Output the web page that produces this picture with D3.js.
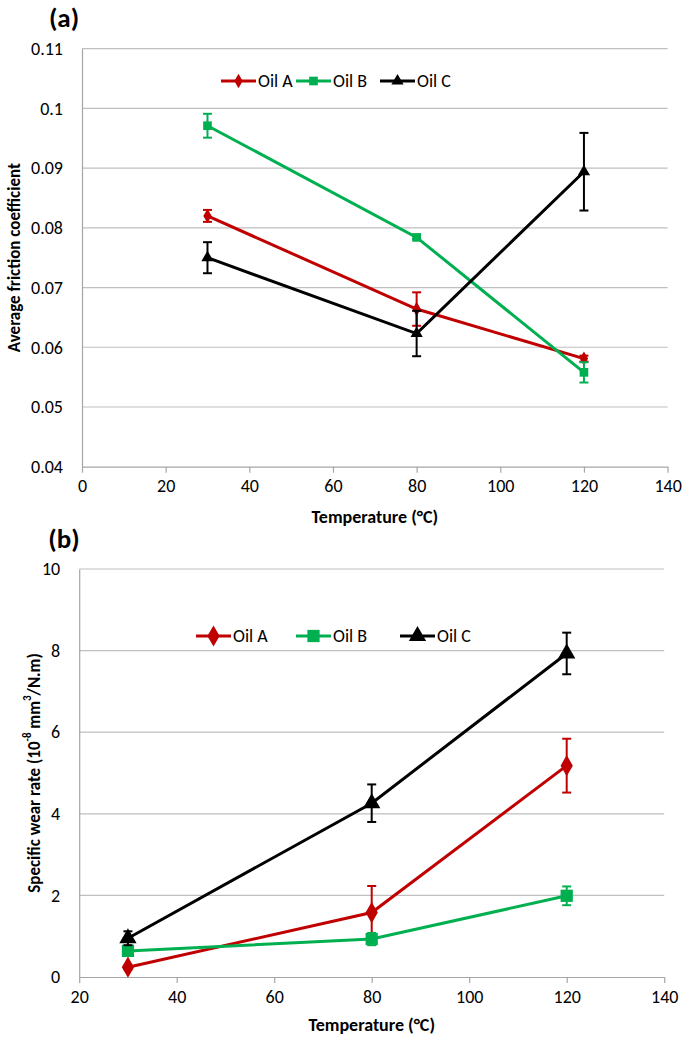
<!DOCTYPE html>
<html>
<head>
<meta charset="utf-8">
<script src="https://cdn.jsdelivr.net/npm/d3@7"></script>
<style>
  body { margin: 0; background: #fff; }
  svg text { font-family: Carlito, Calibri, Lato, sans-serif; fill: #000; }
</style>
</head>
<body>
<div id="chart"></div>
<script>
// Shared legend / series info
const oils = ["Oil A", "Oil B", "Oil C"];
const oilColors = ["#C00000", "#00B050", "#000000"];
const oilShapes = [d3.symbolDiamond, d3.symbolSquare, d3.symbolTriangle];

// Panel (a): average friction coefficient
const tempsA = [30, 80, 120];
const frictionA = [0.0820, 0.0664, 0.0581];
const frictionAErr = [0.0010, 0.0028, 0.0005];
const frictionB = [0.0971, 0.0784, 0.0558];
const frictionBErr = [0.0020, 0.0003, 0.0017];
const frictionC = [0.0750, 0.0623, 0.0894];
const frictionCErr = [0.0026, 0.0038, 0.0065];
const frictionXTicks = [0, 20, 40, 60, 80, 100, 120, 140];
const frictionYTicks = [0.04, 0.05, 0.06, 0.07, 0.08, 0.09, 0.1, 0.11];

// Panel (b): specific wear rate
const tempsB = [30, 80, 120];
const wearA = [0.24, 1.58, 5.18];
const wearAErr = [0.05, 0.65, 0.66];
const wearB = [0.64, 0.93, 1.99];
const wearBErr = [0.08, 0.15, 0.23];
const wearC = [0.95, 4.26, 7.93];
const wearCErr = [0.17, 0.46, 0.51];
const wearXTicks = [20, 40, 60, 80, 100, 120, 140];
const wearYTicks = [0, 2, 4, 6, 8, 10];

const width = 685, height = 1037;

const svg = d3.select("#chart").append("svg")
    .attr("width", width)
    .attr("height", height);

function drawPanel(cfg) {
    const g = svg.append("g");

    const x = d3.scaleLinear().domain(cfg.xDomain).range([cfg.left, cfg.right]);
    const y = d3.scaleLinear().domain(cfg.yDomain).range([cfg.bottom, cfg.top]);

    // gridlines
    g.selectAll(".grid")
        .data(cfg.yTicks.filter(t => t !== cfg.yDomain[0]))
        .join("line")
        .attr("x1", cfg.left).attr("x2", cfg.right)
        .attr("y1", d => y(d)).attr("y2", d => y(d))
        .attr("stroke", "#BFBFBF")
        .attr("stroke-width", 1.2);

    // y axis (no ticks, just line + labels)
    const yAxis = g.append("g")
        .attr("transform", `translate(${cfg.left},0)`)
        .call(d3.axisLeft(y).tickValues(cfg.yTicks).tickSize(0).tickPadding(19)
            .tickFormat(cfg.yFormat));
    yAxis.select(".domain").attr("stroke", "#A6A6A6").attr("stroke-width", 1.2);
    yAxis.selectAll("text").style("font-size", "18px");

    // x axis
    const xAxis = g.append("g")
        .attr("transform", `translate(0,${cfg.bottom})`)
        .call(d3.axisBottom(x).tickValues(cfg.xTicks).tickSizeInner(6).tickSizeOuter(0).tickPadding(7)
            .tickFormat(d3.format("d")));
    xAxis.select(".domain").attr("stroke", "#A6A6A6").attr("stroke-width", 1.2);
    xAxis.selectAll(".tick line").attr("stroke", "#A6A6A6").attr("stroke-width", 1.2);
    xAxis.selectAll("text").style("font-size", "18px");

    // axis titles
    g.append("text")
        .attr("x", (cfg.left + cfg.right) / 2)
        .attr("y", cfg.xTitleY)
        .attr("text-anchor", "middle")
        .style("font-size", "18px")
        .style("font-weight", "bold")
        .text("Temperature (°C)");

    const yt = g.append("text")
        .attr("transform", `translate(${cfg.yTitleX},${(cfg.top + cfg.bottom) / 2}) rotate(-90)`)
        .attr("text-anchor", "middle")
        .attr("dominant-baseline", "central")
        .style("font-size", "17px")
        .style("font-weight", "bold");
    cfg.yTitle.forEach(part => {
        const ts = yt.append("tspan").text(part.t);
        if (part.sup) ts.attr("baseline-shift", "super").style("font-size", "11px");
    });

    // panel label
    g.append("text")
        .attr("x", cfg.labelX)
        .attr("y", cfg.labelY)
        .attr("text-anchor", "middle")
        .attr("dominant-baseline", "central")
        .style("font-size", "27px")
        .style("font-weight", "bold")
        .text(cfg.label);

    // series
    const line = d3.line().x(d => x(d.t)).y(d => y(d.v));
    cfg.series.forEach((s, i) => {
        const pts = s.temps.map((t, j) => ({ t, v: s.values[j], e: s.errs[j] }));
        const sg = g.append("g");

        sg.append("path")
            .datum(pts)
            .attr("d", line)
            .attr("fill", "none")
            .attr("stroke", oilColors[i])
            .attr("stroke-width", 3);

        // error bars
        pts.forEach(p => {
            const cx = x(p.t);
            const y1 = y(p.v + p.e), y2 = y(p.v - p.e);
            sg.append("line").attr("x1", cx).attr("x2", cx).attr("y1", y1).attr("y2", y2)
                .attr("stroke", oilColors[i]).attr("stroke-width", 2);
            [y1, y2].forEach(yy => {
                sg.append("line").attr("x1", cx - 4.5).attr("x2", cx + 4.5).attr("y1", yy).attr("y2", yy)
                    .attr("stroke", oilColors[i]).attr("stroke-width", 2);
            });
        });

        sg.selectAll(".pt")
            .data(pts)
            .join("path")
            .attr("transform", d => `translate(${x(d.t)},${y(d.v)})`)
            .attr("d", d3.symbol().type(oilShapes[i]).size(cfg.markerSize[i]))
            .attr("fill", oilColors[i]);
    });

    // legend
    const lg = g.append("g").attr("transform", `translate(0,${cfg.legendY})`);
    oils.forEach((name, i) => {
        const lx = cfg.legendX[i];
        lg.append("line").attr("x1", lx).attr("x2", lx + 35).attr("y1", 0).attr("y2", 0)
            .attr("stroke", oilColors[i]).attr("stroke-width", 3);
        lg.append("path")
            .attr("transform", `translate(${lx + 17.5},0)`)
            .attr("d", d3.symbol().type(oilShapes[i]).size(cfg.markerSize[i]))
            .attr("fill", oilColors[i]);
        lg.append("text")
            .attr("x", lx + 37)
            .attr("y", 0)
            .attr("dominant-baseline", "central")
            .style("font-size", "18px")
            .text(name);
    });
}

drawPanel({
    left: 82, right: 667.6, top: 48.7, bottom: 466.7,
    xDomain: [0, 140], yDomain: [0.04, 0.11],
    xTicks: frictionXTicks, yTicks: frictionYTicks,
    yFormat: d => d3.format("")(+d.toFixed(2)),
    xTitleY: 523, yTitleX: 14,
    yTitle: [{ t: "Average friction coefficient" }],
    label: "(a)", labelX: 64, labelY: 17,
    legendY: 81, legendX: [221, 296, 380],
    markerSize: [60, 75, 65],
    series: [
        { temps: tempsA, values: frictionA, errs: frictionAErr },
        { temps: tempsA, values: frictionB, errs: frictionBErr },
        { temps: tempsA, values: frictionC, errs: frictionCErr }
    ]
});

drawPanel({
    left: 79.2, right: 664.2, top: 569, bottom: 977,
    xDomain: [20, 140], yDomain: [0, 10],
    xTicks: wearXTicks, yTicks: wearYTicks,
    yFormat: d3.format("d"),
    xTitleY: 1031, yTitleX: 34,
    yTitle: [{ t: "Specific wear rate (10" }, { t: "-8", sup: true }, { t: " mm" }, { t: "3", sup: true }, { t: "/N.m)" }],
    label: "(b)", labelX: 64, labelY: 538,
    legendY: 636, legendX: [196, 296, 400],
    markerSize: [130, 150, 130],
    series: [
        { temps: tempsB, values: wearA, errs: wearAErr },
        { temps: tempsB, values: wearB, errs: wearBErr },
        { temps: tempsB, values: wearC, errs: wearCErr }
    ]
});
</script>
</body>
</html>
